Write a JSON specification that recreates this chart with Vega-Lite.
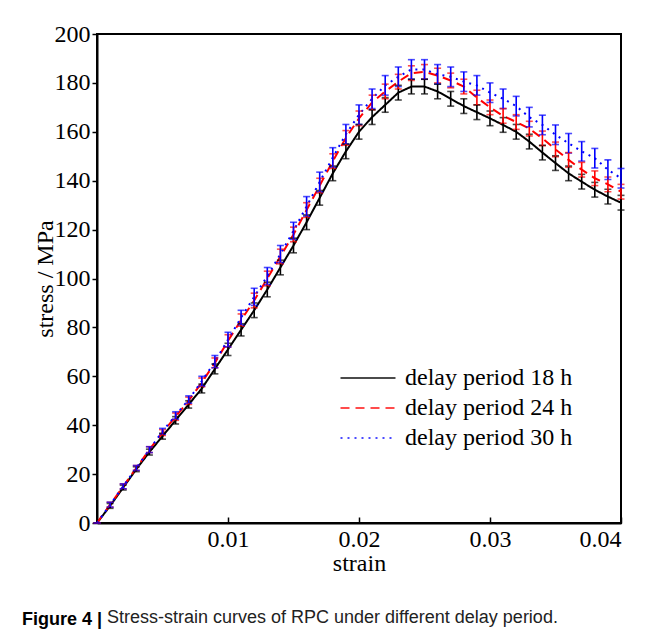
{
  "$schema": "https://vega.github.io/schema/vega-lite/v6.json",
  "width": 524,
  "height": 489,
  "autosize": {"type": "none"},
  "padding": {"left": 97, "top": 34, "right": 32, "bottom": 116},
  "background": "white",
  "title": {
    "text": "Figure 4 |",
    "subtitle": "\u200b\u00a0\u00a0\u00a0\u00a0\u00a0\u00a0\u00a0\u00a0\u00a0\u00a0\u00a0\u00a0\u00a0\u00a0\u00a0\u00a0\u00a0Stress-strain curves of RPC under different delay period.",
    "orient": "bottom",
    "anchor": "start",
    "frame": "group",
    "dx": -75,
    "offset": 36,
    "font": "Liberation Sans",
    "fontSize": 18,
    "fontWeight": "bold",
    "color": "black",
    "subtitleFont": "Liberation Sans",
    "subtitleFontSize": 18,
    "subtitleFontWeight": "normal",
    "subtitleColor": "#222222",
    "subtitlePadding": -20
  },
  "config": {
    "view": {"stroke": "black", "strokeWidth": 2},
    "axis": {
      "grid": false,
      "labelFont": "Liberation Serif",
      "labelFontSize": 24,
      "labelColor": "black",
      "titleFont": "Liberation Serif",
      "titleFontSize": 24,
      "titleFontWeight": "normal",
      "titleColor": "black",
      "domainColor": "black",
      "domainWidth": 2,
      "tickColor": "black",
      "tickWidth": 1.5
    }
  },
  "data": {
    "values": [
      {"strain": 0.000, "stress": 0, "err": 0, "series": "delay period 18 h"},
      {"strain": 0.001, "stress": 7, "err": 1, "series": "delay period 18 h"},
      {"strain": 0.002, "stress": 14.5, "err": 1, "series": "delay period 18 h"},
      {"strain": 0.003, "stress": 22, "err": 1, "series": "delay period 18 h"},
      {"strain": 0.004, "stress": 29, "err": 1.2, "series": "delay period 18 h"},
      {"strain": 0.005, "stress": 35.5, "err": 1.2, "series": "delay period 18 h"},
      {"strain": 0.006, "stress": 42, "err": 1.5, "series": "delay period 18 h"},
      {"strain": 0.007, "stress": 48.5, "err": 1.5, "series": "delay period 18 h"},
      {"strain": 0.008, "stress": 55, "err": 1.8, "series": "delay period 18 h"},
      {"strain": 0.009, "stress": 63, "err": 2, "series": "delay period 18 h"},
      {"strain": 0.010, "stress": 71, "err": 2.5, "series": "delay period 18 h"},
      {"strain": 0.011, "stress": 79, "err": 2.5, "series": "delay period 18 h"},
      {"strain": 0.012, "stress": 87, "err": 3, "series": "delay period 18 h"},
      {"strain": 0.013, "stress": 95.5, "err": 3, "series": "delay period 18 h"},
      {"strain": 0.014, "stress": 104.5, "err": 3, "series": "delay period 18 h"},
      {"strain": 0.015, "stress": 113.5, "err": 3, "series": "delay period 18 h"},
      {"strain": 0.016, "stress": 123, "err": 3, "series": "delay period 18 h"},
      {"strain": 0.017, "stress": 133, "err": 3, "series": "delay period 18 h"},
      {"strain": 0.018, "stress": 143, "err": 3, "series": "delay period 18 h"},
      {"strain": 0.019, "stress": 152, "err": 3, "series": "delay period 18 h"},
      {"strain": 0.020, "stress": 160, "err": 3, "series": "delay period 18 h"},
      {"strain": 0.021, "stress": 166, "err": 3, "series": "delay period 18 h"},
      {"strain": 0.022, "stress": 171, "err": 3, "series": "delay period 18 h"},
      {"strain": 0.023, "stress": 176, "err": 3, "series": "delay period 18 h"},
      {"strain": 0.024, "stress": 178.5, "err": 3, "series": "delay period 18 h"},
      {"strain": 0.025, "stress": 178.5, "err": 3, "series": "delay period 18 h"},
      {"strain": 0.026, "stress": 176.5, "err": 3, "series": "delay period 18 h"},
      {"strain": 0.027, "stress": 173.5, "err": 3, "series": "delay period 18 h"},
      {"strain": 0.028, "stress": 170.5, "err": 3, "series": "delay period 18 h"},
      {"strain": 0.029, "stress": 168, "err": 3, "series": "delay period 18 h"},
      {"strain": 0.030, "stress": 165.5, "err": 3, "series": "delay period 18 h"},
      {"strain": 0.031, "stress": 162.8, "err": 3, "series": "delay period 18 h"},
      {"strain": 0.032, "stress": 160, "err": 3, "series": "delay period 18 h"},
      {"strain": 0.033, "stress": 156, "err": 3, "series": "delay period 18 h"},
      {"strain": 0.034, "stress": 151.5, "err": 3, "series": "delay period 18 h"},
      {"strain": 0.035, "stress": 147.2, "err": 3, "series": "delay period 18 h"},
      {"strain": 0.036, "stress": 143, "err": 3, "series": "delay period 18 h"},
      {"strain": 0.037, "stress": 139.6, "err": 3, "series": "delay period 18 h"},
      {"strain": 0.038, "stress": 136.3, "err": 3, "series": "delay period 18 h"},
      {"strain": 0.039, "stress": 133.5, "err": 3, "series": "delay period 18 h"},
      {"strain": 0.040, "stress": 131, "err": 3, "series": "delay period 18 h"},
      {"strain": 0.000, "stress": 0, "err": 0, "series": "delay period 24 h"},
      {"strain": 0.001, "stress": 7.5, "err": 1, "series": "delay period 24 h"},
      {"strain": 0.002, "stress": 15, "err": 1, "series": "delay period 24 h"},
      {"strain": 0.003, "stress": 22.5, "err": 1, "series": "delay period 24 h"},
      {"strain": 0.004, "stress": 30, "err": 1.2, "series": "delay period 24 h"},
      {"strain": 0.005, "stress": 37, "err": 1.2, "series": "delay period 24 h"},
      {"strain": 0.006, "stress": 43.5, "err": 1.5, "series": "delay period 24 h"},
      {"strain": 0.007, "stress": 50, "err": 1.5, "series": "delay period 24 h"},
      {"strain": 0.008, "stress": 57.5, "err": 1.8, "series": "delay period 24 h"},
      {"strain": 0.009, "stress": 65.5, "err": 2, "series": "delay period 24 h"},
      {"strain": 0.010, "stress": 74.5, "err": 2.5, "series": "delay period 24 h"},
      {"strain": 0.011, "stress": 83, "err": 2.5, "series": "delay period 24 h"},
      {"strain": 0.012, "stress": 91, "err": 3, "series": "delay period 24 h"},
      {"strain": 0.013, "stress": 100, "err": 3, "series": "delay period 24 h"},
      {"strain": 0.014, "stress": 109, "err": 3, "series": "delay period 24 h"},
      {"strain": 0.015, "stress": 118, "err": 3, "series": "delay period 24 h"},
      {"strain": 0.016, "stress": 128, "err": 3, "series": "delay period 24 h"},
      {"strain": 0.017, "stress": 138, "err": 3, "series": "delay period 24 h"},
      {"strain": 0.018, "stress": 148, "err": 3, "series": "delay period 24 h"},
      {"strain": 0.019, "stress": 157.5, "err": 3, "series": "delay period 24 h"},
      {"strain": 0.020, "stress": 165.5, "err": 3, "series": "delay period 24 h"},
      {"strain": 0.021, "stress": 172, "err": 3, "series": "delay period 24 h"},
      {"strain": 0.022, "stress": 176.5, "err": 3, "series": "delay period 24 h"},
      {"strain": 0.023, "stress": 180.5, "err": 3, "series": "delay period 24 h"},
      {"strain": 0.024, "stress": 184, "err": 3, "series": "delay period 24 h"},
      {"strain": 0.025, "stress": 184.5, "err": 3, "series": "delay period 24 h"},
      {"strain": 0.026, "stress": 183, "err": 3, "series": "delay period 24 h"},
      {"strain": 0.027, "stress": 181, "err": 3, "series": "delay period 24 h"},
      {"strain": 0.028, "stress": 178.5, "err": 3, "series": "delay period 24 h"},
      {"strain": 0.029, "stress": 174, "err": 3, "series": "delay period 24 h"},
      {"strain": 0.030, "stress": 170, "err": 3, "series": "delay period 24 h"},
      {"strain": 0.031, "stress": 166.5, "err": 3, "series": "delay period 24 h"},
      {"strain": 0.032, "stress": 164, "err": 3, "series": "delay period 24 h"},
      {"strain": 0.033, "stress": 161.3, "err": 3, "series": "delay period 24 h"},
      {"strain": 0.034, "stress": 157.3, "err": 3, "series": "delay period 24 h"},
      {"strain": 0.035, "stress": 152.8, "err": 3, "series": "delay period 24 h"},
      {"strain": 0.036, "stress": 148.5, "err": 3, "series": "delay period 24 h"},
      {"strain": 0.037, "stress": 144.5, "err": 3, "series": "delay period 24 h"},
      {"strain": 0.038, "stress": 141, "err": 3, "series": "delay period 24 h"},
      {"strain": 0.039, "stress": 138.5, "err": 3, "series": "delay period 24 h"},
      {"strain": 0.040, "stress": 135.5, "err": 3, "series": "delay period 24 h"},
      {"strain": 0.000, "stress": 0, "err": 0, "series": "delay period 30 h"},
      {"strain": 0.001, "stress": 7.5, "err": 1, "series": "delay period 30 h"},
      {"strain": 0.002, "stress": 15, "err": 1, "series": "delay period 30 h"},
      {"strain": 0.003, "stress": 22.5, "err": 1, "series": "delay period 30 h"},
      {"strain": 0.004, "stress": 30, "err": 1.2, "series": "delay period 30 h"},
      {"strain": 0.005, "stress": 37.5, "err": 1.2, "series": "delay period 30 h"},
      {"strain": 0.006, "stress": 44, "err": 1.5, "series": "delay period 30 h"},
      {"strain": 0.007, "stress": 50.5, "err": 1.5, "series": "delay period 30 h"},
      {"strain": 0.008, "stress": 58, "err": 2, "series": "delay period 30 h"},
      {"strain": 0.009, "stress": 66, "err": 2.5, "series": "delay period 30 h"},
      {"strain": 0.010, "stress": 75, "err": 3, "series": "delay period 30 h"},
      {"strain": 0.011, "stress": 84, "err": 3, "series": "delay period 30 h"},
      {"strain": 0.012, "stress": 92.5, "err": 3.5, "series": "delay period 30 h"},
      {"strain": 0.013, "stress": 101, "err": 3.5, "series": "delay period 30 h"},
      {"strain": 0.014, "stress": 110, "err": 3.5, "series": "delay period 30 h"},
      {"strain": 0.015, "stress": 119.5, "err": 3.5, "series": "delay period 30 h"},
      {"strain": 0.016, "stress": 129.5, "err": 4, "series": "delay period 30 h"},
      {"strain": 0.017, "stress": 139.5, "err": 4, "series": "delay period 30 h"},
      {"strain": 0.018, "stress": 149.5, "err": 4, "series": "delay period 30 h"},
      {"strain": 0.019, "stress": 159, "err": 4, "series": "delay period 30 h"},
      {"strain": 0.020, "stress": 167, "err": 4, "series": "delay period 30 h"},
      {"strain": 0.021, "stress": 173.5, "err": 4, "series": "delay period 30 h"},
      {"strain": 0.022, "stress": 179, "err": 4, "series": "delay period 30 h"},
      {"strain": 0.023, "stress": 182.5, "err": 4, "series": "delay period 30 h"},
      {"strain": 0.024, "stress": 185.5, "err": 4, "series": "delay period 30 h"},
      {"strain": 0.025, "stress": 185.5, "err": 4, "series": "delay period 30 h"},
      {"strain": 0.026, "stress": 183.5, "err": 4, "series": "delay period 30 h"},
      {"strain": 0.027, "stress": 182.5, "err": 4, "series": "delay period 30 h"},
      {"strain": 0.028, "stress": 180.5, "err": 4, "series": "delay period 30 h"},
      {"strain": 0.029, "stress": 179, "err": 4, "series": "delay period 30 h"},
      {"strain": 0.030, "stress": 176, "err": 4, "series": "delay period 30 h"},
      {"strain": 0.031, "stress": 173.5, "err": 4, "series": "delay period 30 h"},
      {"strain": 0.032, "stress": 170.5, "err": 4, "series": "delay period 30 h"},
      {"strain": 0.033, "stress": 166, "err": 4, "series": "delay period 30 h"},
      {"strain": 0.034, "stress": 162.8, "err": 4, "series": "delay period 30 h"},
      {"strain": 0.035, "stress": 158.8, "err": 4, "series": "delay period 30 h"},
      {"strain": 0.036, "stress": 155.3, "err": 4, "series": "delay period 30 h"},
      {"strain": 0.037, "stress": 152, "err": 4, "series": "delay period 30 h"},
      {"strain": 0.038, "stress": 149.2, "err": 4, "series": "delay period 30 h"},
      {"strain": 0.039, "stress": 144.5, "err": 4, "series": "delay period 30 h"},
      {"strain": 0.040, "stress": 141, "err": 4, "series": "delay period 30 h"}
    ]
  },
  "layer": [
    {
      "mark": {"type": "line", "strokeWidth": 2},
      "encoding": {
        "x": {
          "field": "strain",
          "type": "quantitative",
          "scale": {"domain": [0, 0.04], "nice": false},
          "axis": {"values": [0.01, 0.02, 0.03, 0.04], "format": ".2f", "title": "strain", "tickSize": -6, "labelPadding": 10, "titlePadding": 0}
        },
        "y": {
          "field": "stress",
          "type": "quantitative",
          "scale": {"domain": [0, 200], "nice": false},
          "axis": {"values": [0, 20, 40, 60, 80, 100, 120, 140, 160, 180, 200], "title": "stress / MPa", "tickSize": 5, "labelPadding": 2, "titlePadding": -3}
        },
        "color": {
          "field": "series",
          "type": "nominal",
          "scale": {"domain": ["delay period 18 h", "delay period 24 h", "delay period 30 h"], "range": ["#000000", "#ff0000", "#0000ff"]},
          "legend": {
            "title": null,
            "orient": "none",
            "legendX": 259,
            "legendY": 332,
            "symbolType": "M-5,0H5",
            "symbolSize": 121,
            "symbolStrokeWidth": 2,
            "labelFont": "Liberation Serif",
            "labelFontSize": 24,
            "labelColor": "black",
            "labelOffset": 25,
            "rowPadding": 6,
            "labelLimit": 400
          }
        },
        "strokeDash": {
          "field": "series",
          "type": "nominal",
          "scale": {"domain": ["delay period 18 h", "delay period 24 h", "delay period 30 h"], "range": [[1, 0], [9, 6], [2, 5]]},
          "legend": {
            "title": null,
            "orient": "none",
            "legendX": 259,
            "legendY": 332,
            "symbolType": "M-5,0H5",
            "symbolSize": 121,
            "symbolStrokeWidth": 2,
            "labelFont": "Liberation Serif",
            "labelFontSize": 24,
            "labelColor": "black",
            "labelOffset": 25,
            "rowPadding": 6,
            "labelLimit": 400
          }
        }
      }
    },
    {
      "mark": {"type": "errorbar", "ticks": {"size": 7}, "thickness": 1.6},
      "encoding": {
        "x": {"field": "strain", "type": "quantitative", "title": "strain"},
        "y": {"field": "stress", "type": "quantitative", "title": "stress / MPa"},
        "yError": {"field": "err"},
        "color": {"field": "series", "type": "nominal"}
      }
    }
  ]
}
